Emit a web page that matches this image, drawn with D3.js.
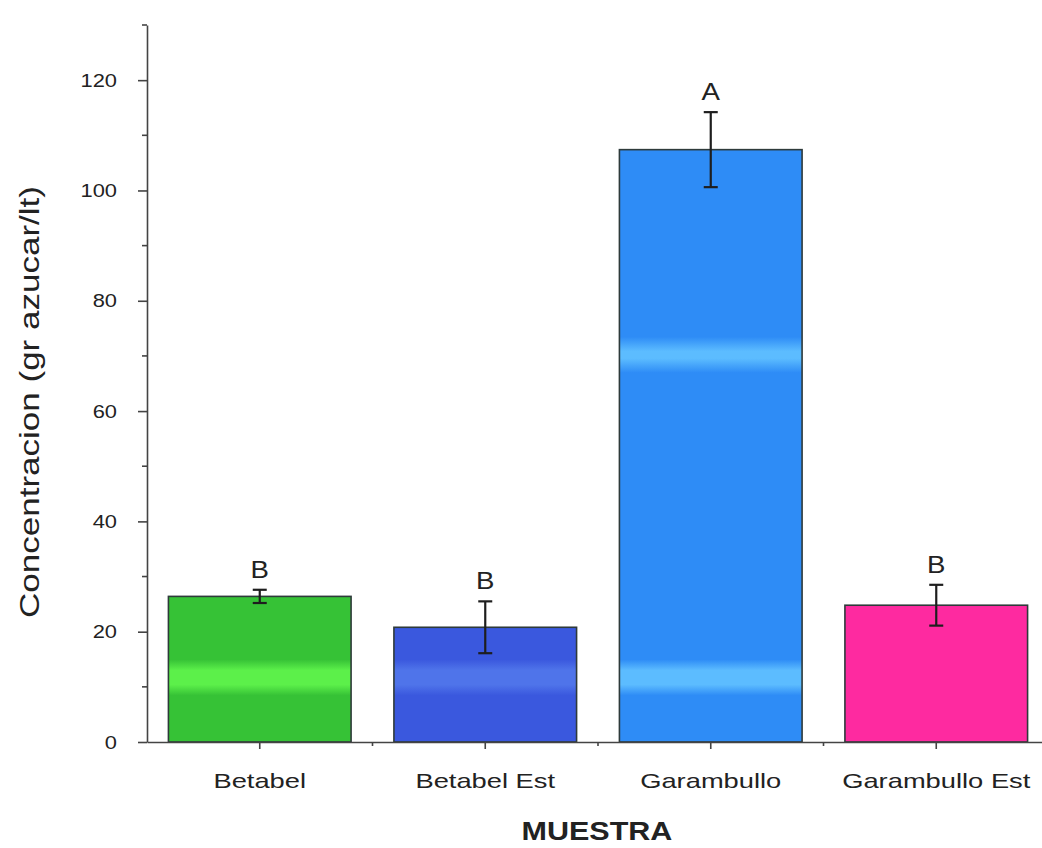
<!DOCTYPE html>
<html>
<head>
<meta charset="utf-8">
<script src="https://cdn.jsdelivr.net/npm/d3@7"></script>
<style>
  html, body { margin: 0; padding: 0; background: #fff; }
  svg { display: block; font-family: "Liberation Sans", Arial, sans-serif; }
</style>
</head>
<body>
<svg id="chart" width="1042" height="848"></svg>
<script>
// Sugar concentration per sample (mean ± error) with significance letters
const categories = ["Betabel", "Betabel Est", "Garambullo", "Garambullo Est"];
const means      = [26.4, 20.8, 107.4, 24.8];
const errors     = [1.2, 4.7, 6.8, 3.7];
const letters    = ["B", "B", "A", "B"];
const yTicks     = [0, 20, 40, 60, 80, 100, 120];
const yMinor     = [10, 30, 50, 70, 90, 110, 130];

const svg = d3.select("#chart");
const FONT = "Liberation Sans, Arial, sans-serif";

// Wide lettering: stretch each label along its baseline
function widen(sel, k) {
  sel.each(function () {
    const w = this.getComputedTextLength();
    d3.select(this).attr("textLength", w * k).attr("lengthAdjust", "spacingAndGlyphs");
  });
}

const x = d3.scaleBand()
  .domain(categories)
  .range([147, 1049])
  .paddingInner(0.19)
  .paddingOuter(0.095);

const y = d3.scaleLinear().domain([0, 130]).range([742, 25]);

// Bar fills: base colour with lighter horizontal bands
const palette = [
  { base: "#36c236", light: "#5cf04a" },
  { base: "#3a58de", light: "#4f74ea" },
  { base: "#2e8cf6", light: "#5cbcff" },
  { base: "#fe2aa0", light: "#fe2aa0" }
];
const defs = svg.append("defs");
palette.forEach((p, i) => {
  const g = defs.append("linearGradient")
    .attr("id", "fill" + i)
    .attr("gradientUnits", "userSpaceOnUse")
    .attr("x1", 0).attr("x2", 0)
    .attr("y1", y(0)).attr("y2", y(130));
  const stops = [
    [0, p.base], [0.065, p.base], [0.08, p.light], [0.1, p.light], [0.115, p.base],
    [0.515, p.base], [0.535, p.light], [0.545, p.light], [0.565, p.base], [1, p.base]
  ];
  stops.forEach(([o, c]) => g.append("stop").attr("offset", o).attr("stop-color", c));
});

// Bars
svg.append("g").selectAll("rect")
  .data(categories)
  .join("rect")
  .attr("x", d => x(d))
  .attr("width", x.bandwidth())
  .attr("y", (d, i) => y(means[i]))
  .attr("height", (d, i) => y(0) - y(means[i]))
  .attr("fill", (d, i) => "url(#fill" + i + ")")
  .attr("stroke", "#2e3a3a")
  .attr("stroke-width", 1.6);

// Error bars
const eb = svg.append("g").attr("stroke", "#1e1e1e").attr("stroke-width", 2.2);
categories.forEach((c, i) => {
  const cx = x(c) + x.bandwidth() / 2;
  const lo = y(means[i] - errors[i]), hi = y(means[i] + errors[i]);
  eb.append("line").attr("x1", cx).attr("x2", cx).attr("y1", lo).attr("y2", hi);
  eb.append("line").attr("x1", cx - 7).attr("x2", cx + 7).attr("y1", lo).attr("y2", lo);
  eb.append("line").attr("x1", cx - 7).attr("x2", cx + 7).attr("y1", hi).attr("y2", hi);
});

// Significance letters
const sig = svg.append("g").selectAll("text")
  .data(categories)
  .join("text")
  .attr("x", d => x(d) + x.bandwidth() / 2)
  .attr("y", (d, i) => y(means[i] + errors[i]) - 12)
  .attr("text-anchor", "middle")
  .attr("font-size", 24)
  .attr("fill", "#222")
  .text((d, i) => letters[i]);
widen(sig, 1.15);

// Y axis
const yAxis = svg.append("g")
  .attr("transform", "translate(147,0)")
  .call(d3.axisLeft(y).tickValues(yTicks).tickSize(9).tickPadding(21).tickSizeOuter(0));
yAxis.append("g").selectAll("line")
  .data(yMinor)
  .join("line")
  .attr("x1", -5).attr("x2", 0)
  .attr("y1", d => y(d)).attr("y2", d => y(d))
  .attr("stroke", "#444");
yAxis.selectAll("text").attr("font-size", 19).attr("fill", "#222").attr("font-family", FONT);
yAxis.selectAll("path, line").attr("stroke", "#444").attr("stroke-width", 1.6);
widen(yAxis.selectAll(".tick text"), 1.15);

// X axis
const xAxis = svg.append("g")
  .attr("transform", "translate(0,742)")
  .call(d3.axisBottom(x).tickSize(7).tickPadding(24).tickSizeOuter(0));
const bounds = categories.slice(1).map(c => x(c) - x.step() * x.paddingInner() / 2);
xAxis.append("g").selectAll("line")
  .data(bounds)
  .join("line")
  .attr("x1", d => d).attr("x2", d => d)
  .attr("y1", 0).attr("y2", 4)
  .attr("stroke", "#444");
xAxis.selectAll("text").attr("font-size", 21).attr("fill", "#222").attr("font-family", FONT);
xAxis.selectAll("path, line").attr("stroke", "#444").attr("stroke-width", 1.6);
widen(xAxis.selectAll(".tick text"), 1.3);

// Axis titles
const xTitle = svg.append("text")
  .attr("x", 597).attr("y", 840)
  .attr("text-anchor", "middle")
  .attr("font-size", 25)
  .attr("font-weight", "bold")
  .attr("fill", "#222")
  .text("MUESTRA");
widen(xTitle, 1.22);

const yTitle = svg.append("text")
  .attr("transform", "translate(39,402) rotate(-90)")
  .attr("text-anchor", "middle")
  .attr("font-size", 28)
  .attr("fill", "#222")
  .text("Concentracion (gr azucar/lt)");
widen(yTitle, 1.25);
</script>
</body>
</html>
